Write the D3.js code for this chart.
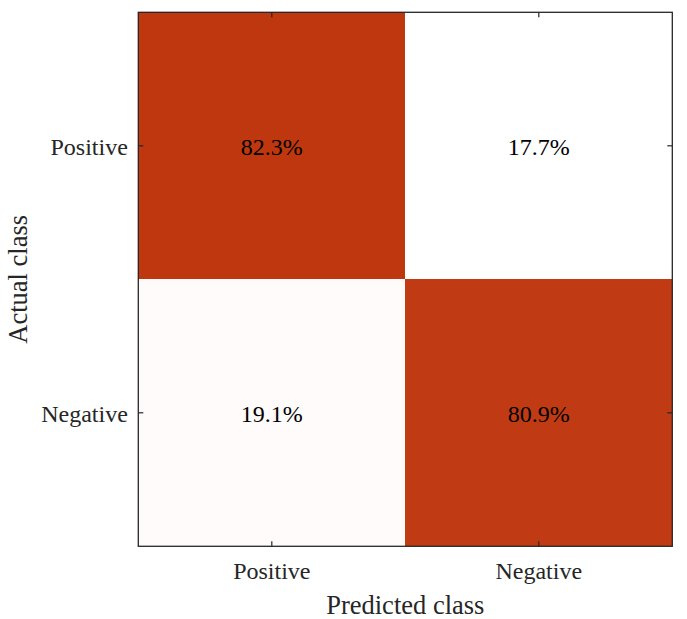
<!DOCTYPE html>
<html>
<head>
<meta charset="utf-8">
<script src="https://cdn.jsdelivr.net/npm/d3@7"></script>
<style>
  html, body { margin: 0; padding: 0; background: #fff; }
  svg { display: block; }
  svg text { font-family: "Liberation Serif", "Times New Roman", serif !important; }
</style>
</head>
<body>
<svg id="chart" width="687" height="619"></svg>
<script>
// Data
const actualClasses = ["Positive", "Negative"];
const predictedClasses = ["Positive", "Negative"];
const rowPositive = [82.3, 17.7];
const rowNegative = [19.1, 80.9];
const xAxisTitle = "Predicted class";
const yAxisTitle = "Actual class";

const matrix = [rowPositive, rowNegative];
const cells = [];
matrix.forEach((row, i) => row.forEach((v, j) => cells.push({ actual: actualClasses[i], predicted: predictedClasses[j], value: v })));

const FONT = "'Liberation Serif', 'Times New Roman', serif";
const svg = d3.select("#chart");
const margin = { left: 138.3, top: 12.3, right: 687 - 672.3, bottom: 619 - 546.3 };
const W = 687 - margin.left - margin.right;
const H = 619 - margin.top - margin.bottom;

const x = d3.scaleBand().domain(predictedClasses).range([0, W]).padding(0);
const y = d3.scaleBand().domain(actualClasses).range([0, H]).padding(0);

const vals = cells.map(d => d.value);
const color = d3.scaleLinear()
  .domain([d3.min(vals), d3.max(vals)])
  .range(["#ffffff", "#bf370e"])
  .interpolate(d3.interpolateRgb);

const g = svg.append("g").attr("transform", `translate(${margin.left},${margin.top})`);

g.selectAll("rect.cell").data(cells).join("rect")
  .attr("class", "cell")
  .attr("x", d => x(d.predicted))
  .attr("y", d => y(d.actual))
  .attr("width", x.bandwidth())
  .attr("height", y.bandwidth())
  .attr("fill", d => color(d.value))
  .attr("shape-rendering", "crispEdges");

g.selectAll("text.val").data(cells).join("text")
  .attr("class", "val")
  .attr("x", d => x(d.predicted) + x.bandwidth() / 2)
  .attr("y", d => y(d.actual) + y.bandwidth() / 2)
  .attr("dy", "0.37em")
  .attr("text-anchor", "middle")
  .style("font-family", FONT)
  .style("font-size", "24px")
  .attr("fill", "#000")
  .text(d => d.value.toFixed(1) + "%");

const axisColor = "#262626";
const tickLen = 5;

const xAxisB = d3.axisBottom(x).tickSizeInner(-tickLen).tickSizeOuter(0).tickPadding(22);
const xAxisT = d3.axisTop(x).tickSizeInner(-tickLen).tickSizeOuter(0).tickFormat("");
const yAxisL = d3.axisLeft(y).tickSizeInner(-tickLen).tickSizeOuter(0).tickPadding(15);
const yAxisR = d3.axisRight(y).tickSizeInner(-tickLen).tickSizeOuter(0).tickFormat("");

function style(sel) {
  sel.attr("font-family", null).attr("font-size", null);
  sel.select(".domain").remove();
  sel.selectAll(".tick line").attr("stroke", axisColor).attr("stroke-width", 1.2);
  sel.selectAll(".tick text").attr("fill", axisColor)
     .style("font-size", "24px")
     .style("font-family", FONT);
}

const gxb = g.append("g").attr("transform", `translate(0,${H})`).call(xAxisB).call(style);
gxb.selectAll(".tick text").attr("dy", "0.71em").attr("y", 16);
g.append("g").call(xAxisT).call(style);
const gyl = g.append("g").call(yAxisL).call(style);
gyl.selectAll(".tick text").attr("dy", "0.37em").attr("x", -10.5);
g.append("g").attr("transform", `translate(${W},0)`).call(yAxisR).call(style);

g.append("rect")
  .attr("x", 0).attr("y", 0).attr("width", W).attr("height", H)
  .attr("fill", "none").attr("stroke", axisColor).attr("stroke-width", 1.3);

svg.append("text")
  .attr("x", margin.left + W / 2)
  .attr("y", 614)
  .attr("text-anchor", "middle")
  .style("font-family", FONT)
  .style("font-size", "26.5px")
  .attr("fill", axisColor)
  .text(xAxisTitle);

svg.append("text")
  .attr("transform", `translate(27,${margin.top + H / 2}) rotate(-90)`)
  .attr("text-anchor", "middle")
  .style("font-family", FONT)
  .style("font-size", "26.5px")
  .attr("fill", axisColor)
  .text(yAxisTitle);
</script>
</body>
</html>
